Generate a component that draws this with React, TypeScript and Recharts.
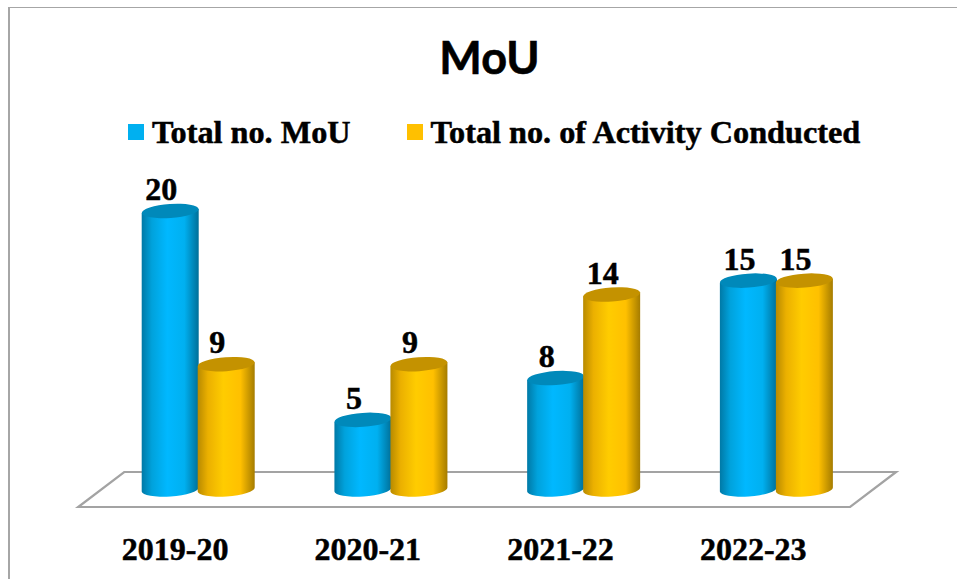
import React from "react";
import { BarChart, Bar, XAxis, YAxis, Legend, LabelList, usePlotArea } from "recharts";

const categories = ["2019-20", "2020-21", "2021-22", "2022-23"];
const totalMou = [20, 5, 8, 15];
const totalActivity = [9, 9, 14, 15];
const seriesNames = ["Total no. MoU", "Total no. of Activity Conducted"];
const chartTitle = "MoU";
const rows = categories.map((c, i) => ({ category: c, mou: totalMou[i], activity: totalActivity[i] }));

const SERIF = "'Liberation Serif', 'Times New Roman', serif";
const BLUE = "#00B0F0";
const GOLD = "#FFC000";

const Cylinder = (props: any) => {
  const { x, y, width, height, gradient, cap } = props;
  const rx = width / 2;
  const ry = 7;
  const tilt = 2;
  const cx = x + rx;
  const base = y + height;
  const body = `M${x},${y + tilt} L${x},${base + tilt} A${rx},${ry} -4 0 0 ${x + width},${base - tilt} L${x + width},${y - tilt} Z`;
  return (
    <g>
      <path d={body} fill={`url(#${gradient})`} />
      <ellipse cx={cx} cy={y} rx={rx} ry={ry} fill={cap} transform={`rotate(-4 ${cx} ${y})`} />
    </g>
  );
};

const heavy = { stroke: "#000", strokeWidth: 0.5 };

const ValueLabel = (props: any) => {
  const { x, y, width, value } = props;
  return (
    <text x={x + width / 2 - 9} y={y - 11} textAnchor="middle" fontFamily={SERIF} fontWeight={700} fontSize={32} fill="#000" {...heavy}>
      {value}
    </text>
  );
};

const CategoryTick = (props: any) => {
  const { x, y, payload } = props;
  return (
    <text x={x - 23} y={y + 22.7} textAnchor="middle" fontFamily={SERIF} fontWeight={700} fontSize={32} fill="#000" {...heavy}>
      {payload.value}
    </text>
  );
};

const Floor = () => {
  const plot = usePlotArea();
  if (!plot) return null;
  const left = plot.x - 23.5;
  const right = plot.x + plot.width - 22.5;
  const front = plot.y + plot.height + 17.5;
  const back = plot.y + plot.height - 17.5;
  const d = `M${left},${front} L${right},${front} L${right + 46},${back} L${left + 46},${back} Z`;
  return <path d={d} fill="none" stroke="#A3A3A3" strokeWidth={2.2} />;
};

const Title = () => (
  <text x={489.5} y={74} textAnchor="middle" fontFamily="Lato, sans-serif" fontWeight={700} fontSize={45} fill="#000" stroke="#000" strokeWidth={0.6}>
    {chartTitle}
  </text>
);

const LegendRow = ({ payload }: any) => (
  <div style={{ position: "relative", height: 40, width: 957 }}>
    {(payload || []).map((p: any, i: number) => (
      <div key={p.value} style={{ position: "absolute", left: i === 0 ? 128 : 407, top: 0, display: "flex", alignItems: "center", height: 40, whiteSpace: "nowrap" }}>
        <span style={{ display: "inline-block", width: 16, height: 16, background: p.color, marginRight: i === 0 ? 8 : 7.5 }} />
        <span style={{ fontFamily: SERIF, fontWeight: 700, fontSize: 32.25, color: "#000", WebkitTextStroke: "0.5px #000" }}>{p.value}</span>
      </div>
    ))}
  </div>
);

export default function App() {
  return (
    <div style={{ position: "absolute", left: 0, top: 0, width: 957, height: 579, overflow: "hidden", background: "#fff" }}>
      <div style={{ position: "absolute", left: 8, top: 7, right: 0, bottom: 0, borderLeft: "2px solid #A6A6A6", borderTop: "1.5px solid #A6A6A6" }} />
      <div style={{ position: "absolute", left: 0, top: 0 }}>
        <BarChart
          width={957}
          height={579}
          data={rows}
          margin={{ top: 171, right: 84.4, bottom: 0, left: 101.7 }}
          barSize={57}
          barGap={-1}
        >
          <defs>
            <linearGradient id="cylBlue" x1="0" y1="0" x2="1" y2="0">
              <stop offset="0%" stopColor="#0079A6" />
              <stop offset="18%" stopColor="#00A2DC" />
              <stop offset="45%" stopColor="#00B8FF" />
              <stop offset="75%" stopColor="#00B0F0" />
              <stop offset="100%" stopColor="#006F98" />
            </linearGradient>
            <linearGradient id="cylGold" x1="0" y1="0" x2="1" y2="0">
              <stop offset="0%" stopColor="#B88A00" />
              <stop offset="18%" stopColor="#EBB000" />
              <stop offset="45%" stopColor="#FFCC00" />
              <stop offset="75%" stopColor="#FFC000" />
              <stop offset="100%" stopColor="#A57C00" />
            </linearGradient>
          </defs>
          <Title />
          <Floor />
          <Legend verticalAlign="top" wrapperStyle={{ left: 0, top: 112, width: 957 }} content={<LegendRow />} />
          <XAxis
            dataKey="category"
            axisLine={false}
            tickLine={false}
            height={89.5}
            interval={0}
            tickMargin={42}
            tick={<CategoryTick />}
          />
          <YAxis hide domain={[0, 20]} />
          <Bar dataKey="mou" name={seriesNames[0]} fill={BLUE} isAnimationActive={false} shape={<Cylinder gradient="cylBlue" cap="#0089BA" />}>
            <LabelList dataKey="mou" content={<ValueLabel />} />
          </Bar>
          <Bar dataKey="activity" name={seriesNames[1]} fill={GOLD} isAnimationActive={false} shape={<Cylinder gradient="cylGold" cap="#C49200" />}>
            <LabelList dataKey="activity" content={<ValueLabel />} />
          </Bar>
        </BarChart>
      </div>
    </div>
  );
}
